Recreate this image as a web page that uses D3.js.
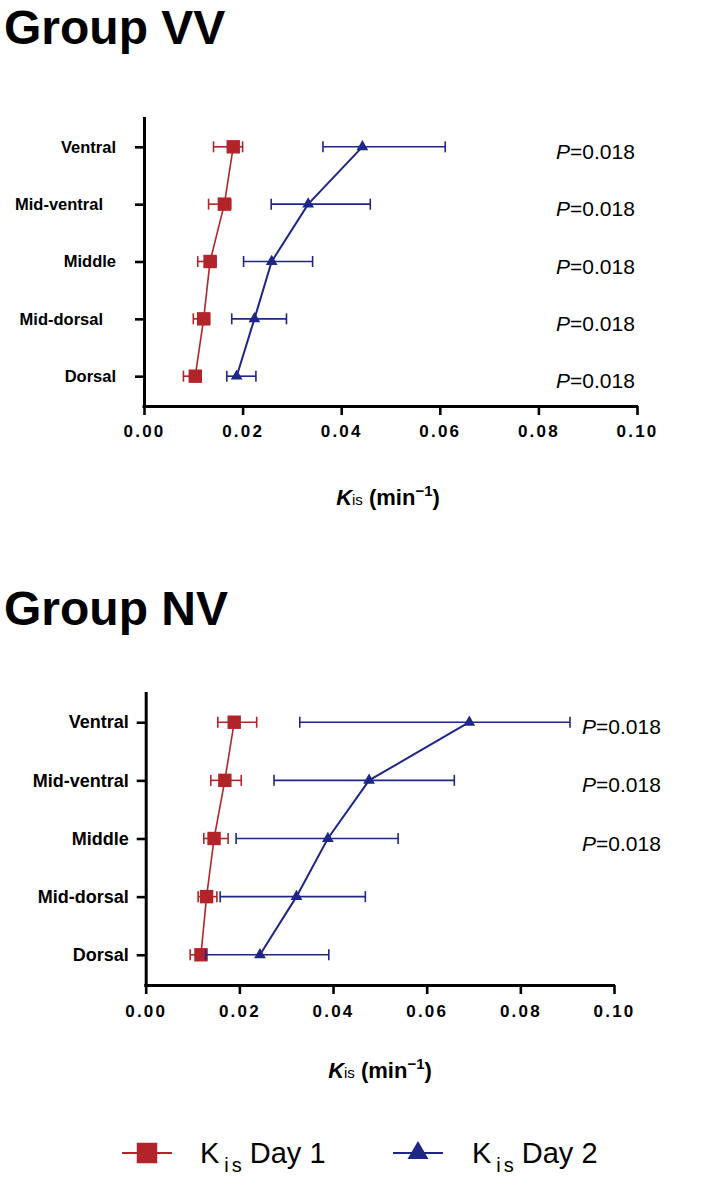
<!DOCTYPE html>
<html>
<head>
<meta charset="utf-8">
<script src="https://cdn.jsdelivr.net/npm/d3@7"></script>
<style>
  html, body { margin: 0; padding: 0; background: #ffffff; }
  svg { display: block; font-family: "Liberation Sans", Arial, Helvetica, sans-serif; }
</style>
</head>
<body>
<svg id="chart" width="708" height="1183"></svg>
<script>
// ---------- data ----------
const categories = ["Ventral", "Mid-ventral", "Middle", "Mid-dorsal", "Dorsal"];
const xTicks = [0, 0.02, 0.04, 0.06, 0.08, 0.10];

// Group VV
const vvDay1     = [0.0181, 0.0163, 0.0134, 0.0121, 0.0104];
const vvDay1Low  = [0.0141, 0.0131, 0.0109, 0.0100, 0.0080];
const vvDay1High = [0.0200, 0.0176, 0.0146, 0.0133, 0.0116];
const vvDay2     = [0.0443, 0.0333, 0.0259, 0.0224, 0.0188];
const vvDay2Low  = [0.0363, 0.0258, 0.0202, 0.0178, 0.0168];
const vvDay2High = [0.0611, 0.0459, 0.0342, 0.0289, 0.0227];
const vvPLabels  = ["0.018", "0.018", "0.018", "0.018", "0.018"];

// Group NV
const nvDay1     = [0.0189, 0.0169, 0.0146, 0.0130, 0.0118];
const nvDay1Low  = [0.0154, 0.0139, 0.0124, 0.0112, 0.0095];
const nvDay1High = [0.0237, 0.0204, 0.0176, 0.0152, 0.0130];
const nvDay2     = [0.0691, 0.0477, 0.0389, 0.0322, 0.0244];
const nvDay2Low  = [0.0329, 0.0274, 0.0193, 0.0159, 0.0128];
const nvDay2High = [0.0906, 0.0659, 0.0539, 0.0469, 0.0391];
const nvPLabels  = ["0.018", "0.018", "0.018"];

const seriesNames = ["Day 1", "Day 2"];
const seriesColors = ["#b3242a", "#1e2688"];

// ---------- layout ----------
const panels = [
  { title: "Group VV", titleX: 4, titleY: 44,
    x0: 144, x1: 637, yTop: 117, yBot: 406,
    labelDx: [0, -13, 0, -13, 0], labelGap: 28, labelSize: 16.5,
    tickY: 437, axisLabelX: 388, axisLabelY: 505, pX: 556,
    d1: vvDay1, d1l: vvDay1Low, d1h: vvDay1High,
    d2: vvDay2, d2l: vvDay2Low, d2h: vvDay2High, p: vvPLabels },
  { title: "Group NV", titleX: 4, titleY: 625,
    x0: 145.7, x1: 614, yTop: 692, yBot: 985,
    labelDx: [0, 0, 0, 0, 0], labelGap: 17, labelSize: 18,
    tickY: 1017, axisLabelX: 380, axisLabelY: 1078, pX: 582,
    d1: nvDay1, d1l: nvDay1Low, d1h: nvDay1High,
    d2: nvDay2, d2l: nvDay2Low, d2h: nvDay2High, p: nvPLabels }
];

const svg = d3.select("#chart");

panels.forEach(P => {
  const g = svg.append("g");
  const x = d3.scaleLinear().domain([0, 0.1]).range([P.x0, P.x1]);
  const y = d3.scalePoint().domain(categories).range([P.yTop, P.yBot]).padding(0.52);

  // title
  g.append("text").attr("x", P.titleX).attr("y", P.titleY)
    .attr("font-size", 48).attr("font-weight", "bold").attr("fill", "#000")
    .text(P.title);

  // x axis
  const xAxis = g.append("g").attr("transform", `translate(0,${P.yBot})`)
    .call(d3.axisBottom(x).tickValues(xTicks).tickSize(9).tickSizeOuter(0).tickFormat(d3.format(".2f")));
  xAxis.select(".domain").attr("stroke", "#000").attr("stroke-width", 3)
    .attr("d", `M${P.x0 - 1.5},0.5H${P.x1 + 1}`);
  xAxis.selectAll(".tick line").attr("stroke", "#000").attr("stroke-width", 2.6);
  xAxis.selectAll(".tick text").attr("y", null).attr("dy", null)
    .attr("transform", `translate(0,${P.tickY - P.yBot})`)
    .attr("font-size", 17).attr("font-weight", "bold").attr("letter-spacing", 2.2)
    .attr("fill", "#000").attr("font-family", "'Liberation Sans', Arial, sans-serif");

  // y axis
  const yAxis = g.append("g").attr("transform", `translate(${P.x0},0)`)
    .call(d3.axisLeft(y).tickSize(9).tickSizeOuter(0));
  yAxis.select(".domain").attr("stroke", "#000").attr("stroke-width", 3)
    .attr("d", `M0.5,${P.yTop}V${P.yBot}`);
  yAxis.selectAll(".tick line").attr("stroke", "#000").attr("stroke-width", 2.6);
  yAxis.selectAll(".tick text")
    .attr("x", (d, i) => -P.labelGap + P.labelDx[i])
    .attr("font-size", P.labelSize).attr("font-weight", "bold").attr("fill", "#000")
    .attr("font-family", "'Liberation Sans', Arial, sans-serif");

  // axis label K_is (min^-1)
  const al = g.append("text").attr("x", P.axisLabelX).attr("y", P.axisLabelY)
    .attr("text-anchor", "middle").attr("font-size", 22).attr("font-weight", "bold").attr("fill", "#000");
  al.append("tspan").attr("font-style", "italic").text("K");
  al.append("tspan").attr("font-size", 15).attr("font-weight", "normal").text("is");
  al.append("tspan").text(" (min");
  al.append("tspan").attr("font-size", 15).attr("dy", -9).text("\u22121");
  al.append("tspan").attr("dy", 9).text(")");

  // series
  const series = [
    { v: P.d1, lo: P.d1l, hi: P.d1h, color: seriesColors[0], shape: d3.symbolSquare, size: 180, lw: 1.6 },
    { v: P.d2, lo: P.d2l, hi: P.d2h, color: seriesColors[1], shape: d3.symbolTriangle, size: 60, lw: 2 }
  ];
  series.forEach(s => {
    const sg = g.append("g");
    const pts = categories.map((c, i) => ({ c, v: s.v[i], lo: s.lo[i], hi: s.hi[i] }));
    // error bars
    const eb = sg.selectAll("g.eb").data(pts).enter().append("g")
      .attr("stroke", s.color).attr("stroke-width", 1.6).attr("fill", "none");
    eb.append("line").attr("x1", d => x(d.lo)).attr("x2", d => x(d.hi))
      .attr("y1", d => y(d.c)).attr("y2", d => y(d.c));
    eb.append("line").attr("x1", d => x(d.lo)).attr("x2", d => x(d.lo))
      .attr("y1", d => y(d.c) - 5.5).attr("y2", d => y(d.c) + 5.5);
    eb.append("line").attr("x1", d => x(d.hi)).attr("x2", d => x(d.hi))
      .attr("y1", d => y(d.c) - 5.5).attr("y2", d => y(d.c) + 5.5);
    // connecting line
    sg.append("path").datum(pts)
      .attr("fill", "none").attr("stroke", s.color).attr("stroke-width", s.lw)
      .attr("d", d3.line().x(d => x(d.v)).y(d => y(d.c)));
    // markers
    sg.selectAll("path.m").data(pts).enter().append("path")
      .attr("transform", d => `translate(${x(d.v)},${y(d.c)})`)
      .attr("d", d3.symbol().type(s.shape).size(s.size))
      .attr("fill", s.color);
  });

  // P labels
  P.p.forEach((pv, i) => {
    const t = g.append("text").attr("x", P.pX).attr("y", y(categories[i]) + 12)
      .attr("font-size", 21).attr("fill", "#000");
    t.append("tspan").attr("font-style", "italic").text("P");
    t.append("tspan").text("=" + pv);
  });
});

// ---------- legend ----------
const legend = [
  { name: seriesNames[0], color: seriesColors[0], shape: d3.symbolSquare, size: 420, lx0: 122, lx1: 172, tx: 200 },
  { name: seriesNames[1], color: seriesColors[1], shape: d3.symbolTriangle, size: 190, lx0: 393, lx1: 443, tx: 472 }
];
const ly = 1153;
legend.forEach(L => {
  const lg = svg.append("g");
  lg.append("line").attr("x1", L.lx0).attr("x2", L.lx1).attr("y1", ly).attr("y2", ly)
    .attr("stroke", L.color).attr("stroke-width", 1.8);
  lg.append("path").attr("transform", `translate(${(L.lx0 + L.lx1) / 2},${ly})`)
    .attr("d", d3.symbol().type(L.shape).size(L.size)).attr("fill", L.color);
  const t = lg.append("text").attr("x", L.tx).attr("y", ly + 10)
    .attr("font-size", 29).attr("fill", "#000");
  t.append("tspan").text("K");
  t.append("tspan").attr("font-size", 20).attr("dy", 9).attr("dx", 5).attr("letter-spacing", 3).text("is");
  t.append("tspan").attr("dy", -9).attr("dx", 5).text(L.name);
});
</script>
</body>
</html>
